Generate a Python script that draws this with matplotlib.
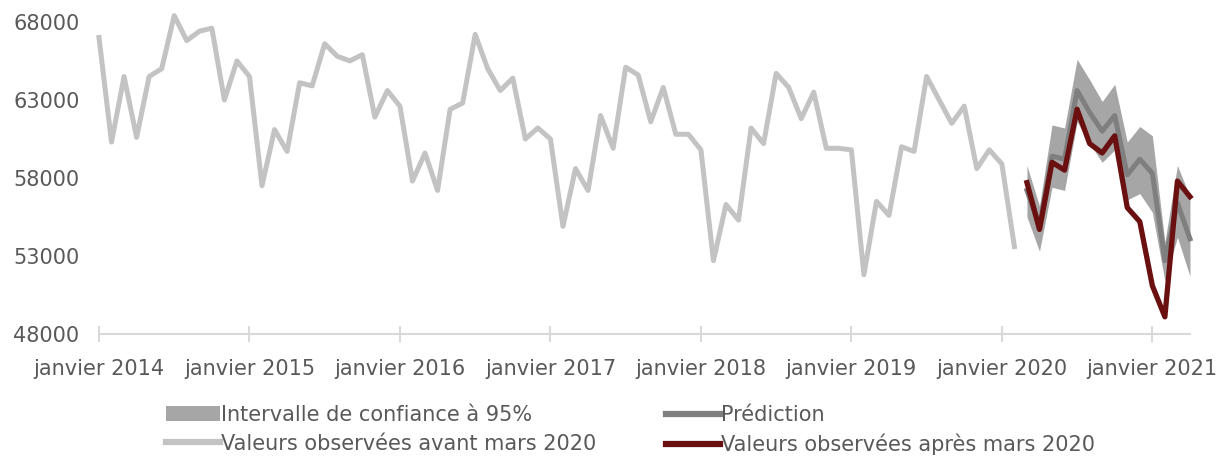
import numpy as np
import matplotlib as mpl
mpl.use("Agg")
import matplotlib.pyplot as plt
from matplotlib.patches import Patch
from matplotlib.lines import Line2D

# --- data ---------------------------------------------------------------
# observed monthly values, janvier 2014 -> fevrier 2020
avant = [67000, 60300, 64500, 60600, 64500, 65000, 68400, 66800, 67400, 67600, 63000, 65500,
         64500, 57500, 61100, 59700, 64100, 63900, 66600, 65800, 65500, 65900, 61900, 63600,
         62600, 57800, 59600, 57200, 62400, 62800, 67200, 65000, 63600, 64400, 60500, 61200,
         60500, 54900, 58600, 57200, 62000, 59900, 65100, 64600, 61600, 63800, 60800, 60800,
         59800, 52700, 56300, 55300, 61200, 60200, 64700, 63800, 61800, 63500, 59900, 59900,
         59800, 51800, 56500, 55600, 60000, 59700, 64500, 63000, 61500, 62600, 58600, 59800,
         58900, 53600]
# mars 2020 -> avril 2021
apres = [57700, 54700, 59000, 58500, 62400, 60200, 59600, 60700, 56100, 55200, 51100, 49100,
         57800, 56800]
prediction = [57200, 54900, 59400, 59200, 63600, 62200, 61000, 62000, 58200, 59200, 58300,
              52700, 56400, 54100]
ic_haut = [58800, 56200, 61400, 61200, 65600, 64300, 62900, 64000, 60300, 61300, 60700,
           53900, 58800, 56800]
ic_bas = [55500, 53300, 57400, 57200, 61600, 60200, 59000, 59800, 56600, 57000, 55800,
          51400, 54200, 51700]
annees = [2014, 2015, 2016, 2017, 2018, 2019, 2020, 2021]
yticks = [48000, 53000, 58000, 63000, 68000]

# --- style ---------------------------------------------------------------
C_AVANT = "#c3c3c3"
C_PRED = "#7f7f7f"
C_BAND = "#a6a6a6"
C_APRES = "#6b1010"
TXT = "#595959"
AXIS = "#d9d9d9"

mpl.rcParams.update({"font.family": "DejaVu Sans", "font.size": 15})

x_avant = np.arange(len(avant))
x_apres = np.arange(len(avant), len(avant) + len(apres))

fig = plt.figure(figsize=(12.25, 4.59), dpi=100)
ax = fig.add_axes([0.0808, 0.2723, 0.8906, 0.714])

ax.fill_between(x_apres, ic_bas, ic_haut, color=C_BAND, lw=0, zorder=1)
ax.plot(x_avant, avant, color=C_AVANT, lw=3.6, zorder=2, clip_on=False)
ax.plot(x_apres, prediction, color=C_PRED, lw=3.6, zorder=3, clip_on=False)
ax.plot(x_apres, apres, color=C_APRES, lw=3.8, zorder=4, clip_on=False)

ax.set_xlim(0, x_apres[-1])
ax.set_ylim(48000, 69000)
ax.set_yticks(yticks)
ax.set_yticklabels([str(v) for v in yticks])
ax.set_xticks([12 * i for i in range(len(annees))])
ax.set_xticklabels([f"janvier {a}" for a in annees])

for s in ("top", "right", "left"):
    ax.spines[s].set_visible(False)
ax.spines["bottom"].set_color(AXIS)
ax.spines["bottom"].set_linewidth(1.5)
ax.tick_params(axis="x", direction="inout", length=12, width=1.5, color=AXIS,
               labelcolor=TXT, pad=12, labelsize=15)
ax.tick_params(axis="y", length=0, pad=14, labelcolor=TXT, labelsize=15)

handles = [
    Patch(facecolor=C_BAND, edgecolor="none"),
    Line2D([], [], color=C_AVANT, lw=4.5),
    Line2D([], [], color=C_PRED, lw=4.5),
    Line2D([], [], color=C_APRES, lw=4.5),
]
labels = ["Intervalle de confiance à 95%", "Valeurs observées avant mars 2020",
          "Prédiction", "Valeurs observées après mars 2020"]
fig.legend(handles, labels, ncol=2, frameon=False, loc="center left",
           bbox_to_anchor=(0.12, 0.063), handlelength=2.6, handletextpad=0.05,
           columnspacing=3.35, labelspacing=0.42, fontsize=15, labelcolor=TXT)

fig.savefig("out.png", dpi=100)
